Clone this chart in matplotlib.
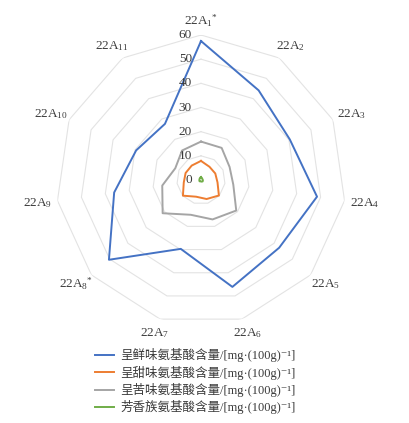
import numpy as np
import matplotlib
matplotlib.use('Agg')
from matplotlib import pyplot as plt
from matplotlib.transforms import offset_copy

plt.rcParams['font.family'] = ['Liberation Serif', 'Noto Sans CJK SC', 'DejaVu Serif']
plt.rcParams['mathtext.fontset'] = 'custom'
plt.rcParams['mathtext.rm'] = 'Liberation Serif'
plt.rcParams['mathtext.default'] = 'regular'

# podaci procitani sa slike
kategorije = [r'22A$_{1}{}^{*}$', r'22A$_{2}$', r'22A$_{3}$', r'22A$_{4}$', r'22A$_{5}$',
              r'22A$_{6}$', r'22A$_{7}$', r'22A$_{8}{}^{*}$', r'22A$_{9}$', r'22A$_{10}$',
              r'22A$_{11}$']
umami = [57.5, 44.1, 40.4, 48.5, 42.8, 46.1, 29.7, 50.4, 36.3, 29.5, 27.6]
slatko = [7.9, 6.5, 6.5, 6.9, 9.8, 8.2, 7.2, 9.9, 7.2, 7.0, 7.1]
gorko = [15.9, 15.8, 13.0, 13.5, 19.3, 17.0, 15.0, 21.0, 16.2, 11.7, 14.5]
aroma = [1.2, 0.8, 0.7, 0.8, 0.9, 0.7, 0.6, 0.8, 0.7, 0.7, 0.9]
razine = [0, 10, 20, 30, 40, 50, 60]

serije = [
    (umami, '#4472C4', '呈鲜味氨基酸含量/[mg·(100g)⁻¹]'),
    (slatko, '#ED7D31', '呈甜味氨基酸含量/[mg·(100g)⁻¹]'),
    (gorko, '#A5A5A5', '呈苦味氨基酸含量/[mg·(100g)⁻¹]'),
    (aroma, '#70AD47', '芳香族氨基酸含量/[mg·(100g)⁻¹]'),
]

n = len(kategorije)
kutovi = np.arange(n) * 2 * np.pi / n
kutovi_z = np.append(kutovi, kutovi[0])

fig = plt.figure(figsize=(4.1, 4.23), dpi=100)
ax = fig.add_axes([56 / 410, 98 / 423, 290 / 410, 290 / 423], projection='polar')
ax.set_theta_zero_location('N')
ax.set_theta_direction(-1)
ax.set_ylim(0, 60)
ax.grid(False)
ax.spines['polar'].set_visible(False)
ax.set_xticks([])
ax.set_yticks([])

# mreza u obliku poligona
for r in razine[1:]:
    ax.plot(kutovi_z, [r] * (n + 1), color='#e3e3e3', lw=0.8, zorder=1)

for vrijednosti, boja, naziv in serije:
    v = np.append(vrijednosti, vrijednosti[0])
    ax.plot(kutovi_z, v, color=boja, lw=1.4, label=naziv, zorder=3)

# oznake radijalne osi
pomak = offset_copy(ax.transData, fig=fig, x=-6.5, y=0, units='points')
for r in razine:
    ax.text(0, r, str(r), transform=pomak, ha='right', va='center',
            fontsize=9.5, color='#3a3a3a', zorder=5)

# nazivi kategorija (izvan vanjskog prstena)
for kut, naziv in zip(kutovi, kategorije):
    ax.annotate(naziv, xy=(kut, 60), xytext=(np.sin(kut) * 14.4, np.cos(kut) * 10.2),
                textcoords='offset points', ha='center', va='center',
                fontsize=9.5, color='#3a3a3a')

fig.legend(loc='upper left', bbox_to_anchor=(95 / 410, 1 - 348 / 423), frameon=False,
           fontsize=9, handlelength=1.5, handletextpad=0.5, labelspacing=0.28,
           borderpad=0, borderaxespad=0, labelcolor='#3a3a3a')

fig.savefig('out.png', dpi=100)
